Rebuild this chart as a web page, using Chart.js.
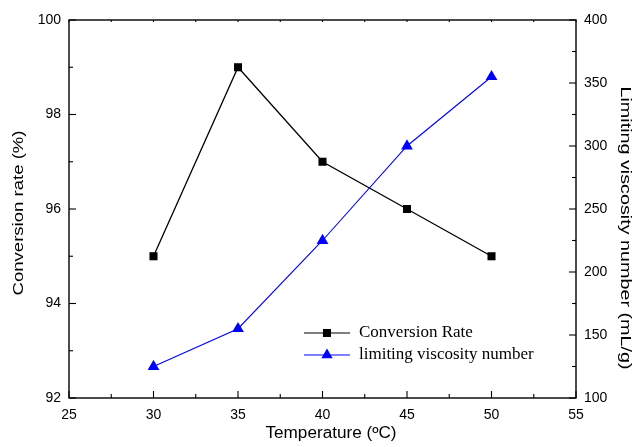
<!DOCTYPE html>
<html lang="en">
<head>
<meta charset="UTF-8">
<title>Conversion rate and limiting viscosity number vs temperature</title>
<script src="https://cdn.jsdelivr.net/npm/chart.js"></script>
<style>
    html, body { margin: 0; padding: 0; background: #fff; }
    #wrap { width: 634px; height: 447px; }
</style>
</head>
<body>
<div id="wrap"><canvas id="tempChart" width="634" height="447"></canvas></div>
<script>
// Measured series
const temperatures = [30, 35, 40, 45, 50];
const conversionRate = [95, 99, 97, 96, 95];
const viscosityNumber = [125, 155, 225, 300, 355];

// Axis ranges and tick steps
const xRange = [25, 55, 5];
const conversionRange = [92, 100, 2];
const viscosityRange = [100, 400, 50];

const sans = "'Liberation Sans', Arial, Helvetica, sans-serif";
const serif = "'Liberation Serif', 'Times New Roman', serif";
const tickFont = { family: sans, size: 14 };

// text stretched along its own direction to a given length
function drawStretched(ctx, text, cx, cy, angle, size, length) {
    ctx.save();
    ctx.font = size + 'px ' + sans;
    const w = ctx.measureText(text).width;
    ctx.translate(cx, cy);
    ctx.rotate(angle);
    ctx.scale(length / w, 1);
    ctx.textAlign = 'center';
    ctx.textBaseline = 'middle';
    ctx.fillStyle = '#000';
    ctx.fillText(text, 0, 0);
    ctx.restore();
}

function drawSquare(ctx, x, y, side, color) {
    ctx.fillStyle = color;
    ctx.fillRect(x - side / 2, y - side / 2, side, side);
}

function drawTriangle(ctx, x, y, r, color) {
    ctx.fillStyle = color;
    ctx.beginPath();
    ctx.moveTo(x, y - r);
    ctx.lineTo(x + r * 0.866, y + r * 0.5);
    ctx.lineTo(x - r * 0.866, y + r * 0.5);
    ctx.closePath();
    ctx.fill();
}

// frame, inward ticks, axis titles and the legend box contents
const framePlugin = {
    id: 'framePlugin',
    afterDraw(chart) {
        const { ctx, chartArea: a, scales } = chart;
        ctx.save();
        ctx.strokeStyle = '#000';
        ctx.lineWidth = 1.4;
        ctx.strokeRect(a.left, a.top, a.right - a.left, a.bottom - a.top);

        ctx.lineWidth = 1.1;
        const seg = (x0, y0, x1, y1) => {
            ctx.beginPath(); ctx.moveTo(x0, y0); ctx.lineTo(x1, y1); ctx.stroke();
        };
        const eachTick = (scale, fn) => {
            const vals = scale.ticks.map(t => t.value);
            vals.forEach((v, i) => {
                fn(scale.getPixelForValue(v), 7);
                if (i < vals.length - 1) fn(scale.getPixelForValue((v + vals[i + 1]) / 2), 4);
            });
        };
        eachTick(scales.x, (p, len) => { seg(p, a.bottom, p, a.bottom - len); seg(p, a.top, p, a.top + 2); });
        eachTick(scales.y, (p, len) => seg(a.left, p, a.left + len, p));
        eachTick(scales.y1, (p, len) => seg(a.right, p, a.right - len, p));

        // axis titles
        drawStretched(ctx, 'Temperature (ºC)', 331, 434, 0, 16, 131);
        drawStretched(ctx, 'Conversion rate (%)', 19, 213, -Math.PI / 2, 15, 165);
        drawStretched(ctx, 'Limiting viscosity number (mL/g)', 625, 228, Math.PI / 2, 15, 283);

        // legend
        const ds = chart.data.datasets;
        const rows = [
            { y: 333, color: '#000', label: ds[0].label, mark: (x, y) => drawSquare(ctx, x, y, 8, '#000') },
            { y: 355, color: '#0000ff', label: ds[1].label, mark: (x, y) => drawTriangle(ctx, x, y, 6.5, '#0000ff') }
        ];
        ctx.font = '17px ' + serif;
        ctx.textBaseline = 'middle';
        ctx.textAlign = 'left';
        rows.forEach(r => {
            ctx.strokeStyle = r.color;
            ctx.lineWidth = 1.2;
            seg(304, r.y, 350, r.y);
            r.mark(327, r.y);
            ctx.fillStyle = '#000';
            ctx.fillText(r.label, 359, r.y);
        });
        ctx.restore();
    }
};

new Chart(document.getElementById('tempChart'), {
    type: 'line',
    data: {
        datasets: [{
            label: 'Conversion Rate',
            data: temperatures.map((t, i) => ({ x: t, y: conversionRate[i] })),
            yAxisID: 'y',
            borderColor: '#000',
            backgroundColor: '#000',
            borderWidth: 1.3,
            pointStyle: 'rect',
            pointRadius: 5.7,
            pointBorderWidth: 0,
            tension: 0
        }, {
            label: 'limiting viscosity number',
            data: temperatures.map((t, i) => ({ x: t, y: viscosityNumber[i] })),
            yAxisID: 'y1',
            borderColor: '#0000ff',
            backgroundColor: '#0000ff',
            borderWidth: 1.1,
            pointStyle: 'triangle',
            pointRadius: 6.8,
            pointBorderWidth: 0,
            tension: 0
        }]
    },
    options: {
        responsive: false,
        animation: false,
        layout: { padding: { top: 20, left: 0, right: 0, bottom: 0 } },
        plugins: { legend: { display: false }, tooltip: { enabled: false } },
        scales: {
            x: {
                type: 'linear',
                min: xRange[0], max: xRange[1],
                ticks: { stepSize: xRange[2], padding: 9, font: tickFont, color: '#000', maxRotation: 0 },
                grid: { display: false, drawTicks: false },
                border: { display: false },
                afterFit(s) { s.height = 49; }
            },
            y: {
                position: 'left',
                min: conversionRange[0], max: conversionRange[1],
                ticks: { stepSize: conversionRange[2], padding: 8, font: tickFont, color: '#000' },
                grid: { display: false, drawTicks: false },
                border: { display: false },
                afterFit(s) { s.width = 69; }
            },
            y1: {
                position: 'right',
                min: viscosityRange[0], max: viscosityRange[1],
                ticks: { stepSize: viscosityRange[2], padding: 8, font: tickFont, color: '#000' },
                grid: { display: false, drawTicks: false },
                border: { display: false },
                afterFit(s) { s.width = 58; }
            }
        }
    },
    plugins: [framePlugin]
});
</script>
</body>
</html>
